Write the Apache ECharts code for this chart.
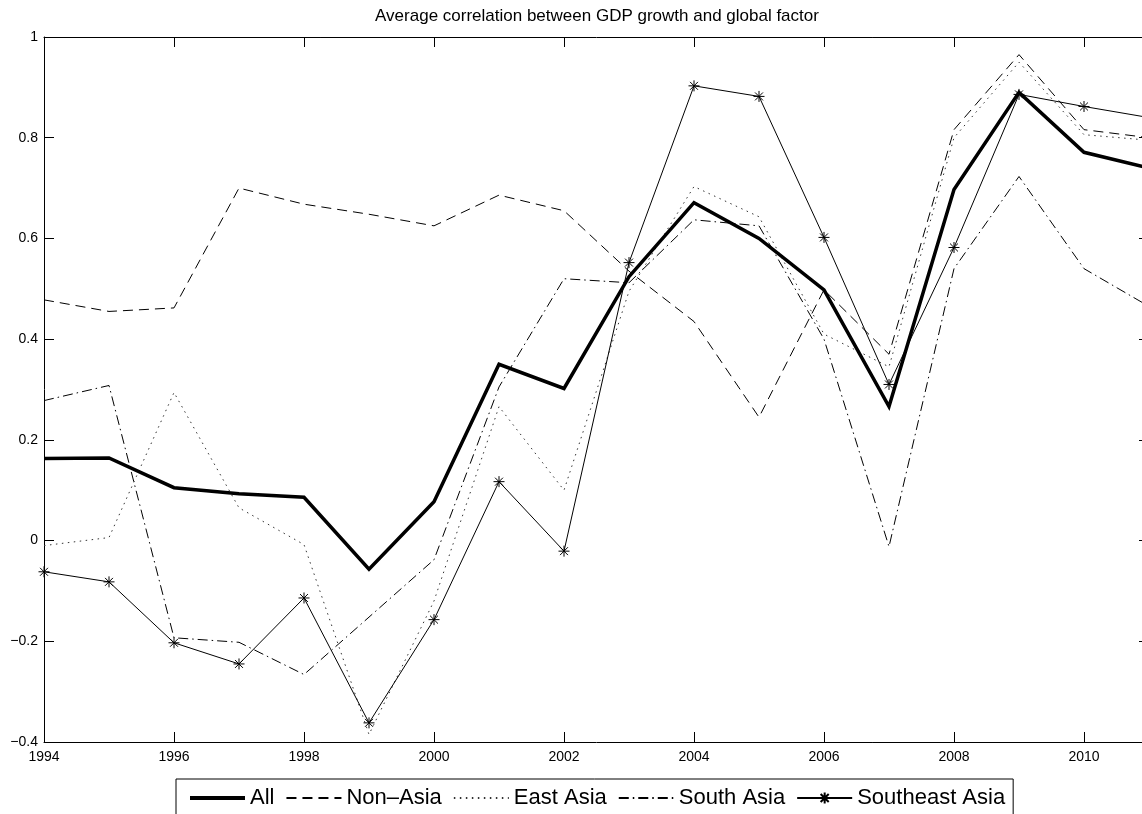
<!DOCTYPE html>
<html>
<head>
<meta charset="utf-8">
<title>Average correlation between GDP growth and global factor</title>
<script src="https://cdn.jsdelivr.net/npm/echarts@6/dist/echarts.min.js"></script>
<style>
  html, body { margin: 0; padding: 0; background: #fff; overflow: hidden; }
  /* a little wider than the window: the 2011 edge falls just outside, as in the original */
  #chart { width: 1149px; height: 814px; }
</style>
</head>
<body>
<div id="chart"></div>
<script>
  // years on the x axis
  var years = [1994, 1995, 1996, 1997, 1998, 1999, 2000, 2001, 2002,
               2003, 2004, 2005, 2006, 2007, 2008, 2009, 2010, 2011];

  // values
  var allVals = [0.163, 0.164, 0.105, 0.093, 0.086, -0.057, 0.077, 0.350, 0.302,
                 0.524, 0.671, 0.600, 0.498, 0.266, 0.697, 0.890, 0.771, 0.740];
  var nonAsia = [0.478, 0.455, 0.462, 0.700, 0.668, 0.648, 0.625, 0.686, 0.655,
                 0.535, 0.435, 0.245, 0.498, 0.370, 0.816, 0.965, 0.816, 0.800];
  var eastAsia = [-0.010, 0.006, 0.294, 0.065, -0.008, -0.385, -0.120, 0.266, 0.100,
                  0.495, 0.703, 0.643, 0.410, 0.345, 0.800, 0.950, 0.806, 0.795];
  var southAsia = [0.278, 0.308, -0.193, -0.202, -0.266, -0.152, -0.038, 0.305, 0.520,
                   0.512, 0.637, 0.625, 0.400, -0.012, 0.540, 0.723, 0.540, 0.465];
  var seAsia = [-0.062, -0.082, -0.203, -0.245, -0.114, -0.362, -0.157, 0.117, -0.021,
                0.552, 0.903, 0.882, 0.602, 0.310, 0.582, 0.886, 0.862, 0.840];

  var yTicks = [-0.4, -0.2, 0, 0.2, 0.4, 0.6, 0.8, 1];

  function pairs(vals) {
    return years.map(function (y, i) { return [y, vals[i]]; });
  }

  var font = 'Liberation Sans, Arial, Helvetica, sans-serif';
  var star = 'path://M0,-1L0,1M-1,0L1,0M-0.72,-0.72L0.72,0.72M-0.72,0.72L0.72,-0.72';

  var myChart = echarts.init(document.getElementById('chart'));

  var axisLine = { show: true, onZero: false, lineStyle: { color: '#000', width: 1 } };
  var tick = { show: true, inside: true, length: 10, lineStyle: { color: '#000', width: 1 } };
  var noMark = { opacity: 0 };

  myChart.setOption({
    animation: false,
    backgroundColor: '#fff',
    textStyle: { fontFamily: font },
    title: {
      text: 'Average correlation between GDP growth and global factor',
      left: 597,
      textAlign: 'center',
      top: 8,
      padding: 0,
      textStyle: { fontSize: 17, fontWeight: 'normal', color: '#000', fontFamily: font }
    },
    grid: { left: 44, top: 37, right: 0, bottom: 72 },
    legend: {
      left: 176,
      top: 779,
      orient: 'horizontal',
      padding: [6, 8, 6, 12],
      itemGap: 11,
      itemWidth: 55,
      itemHeight: 14,
      borderColor: '#000',
      borderWidth: 1,
      borderRadius: 0,
      textStyle: { fontSize: 22, color: '#000', fontFamily: font, lineHeight: 26 },
      data: [
        { name: 'All', itemStyle: noMark, lineStyle: { width: 4 } },
        { name: 'Non\u2013Asia', itemStyle: noMark },
        { name: 'East Asia', itemStyle: noMark },
        { name: 'South Asia', itemStyle: noMark },
        { name: 'Southeast Asia' }
      ]
    },
    xAxis: [
      {
        type: 'value', position: 'bottom', min: 1994, max: 2011, interval: 2,
        axisLine: axisLine, axisTick: tick, splitLine: { show: false },
        axisLabel: { color: '#000', fontSize: 14, margin: 8, showMaxLabel: false,
                     formatter: function (v) { return String(v); } }
      },
      {
        type: 'value', position: 'top', min: 1994, max: 2011, interval: 2,
        axisLine: axisLine, axisTick: tick, splitLine: { show: false },
        axisLabel: { show: false }
      }
    ],
    yAxis: [
      {
        type: 'value', position: 'left', min: yTicks[0], max: yTicks[yTicks.length - 1], interval: 0.2,
        axisLine: axisLine, axisTick: tick, splitLine: { show: false },
        axisLabel: {
          color: '#000', fontSize: 14, margin: 6,
          formatter: function (v) { return String(+v.toFixed(1)).replace('-', '\u2212'); }
        }
      },
      {
        type: 'value', position: 'right', min: yTicks[0], max: yTicks[yTicks.length - 1], interval: 0.2,
        axisLine: axisLine, axisTick: tick, splitLine: { show: false },
        axisLabel: { show: false }
      }
    ],
    series: [
      {
        name: 'All', type: 'line', data: pairs(allVals), symbol: 'none',
        lineStyle: { color: '#000', width: 3.5, join: 'miter' }, itemStyle: { color: '#000' }, z: 5
      },
      {
        name: 'Non\u2013Asia', type: 'line', data: pairs(nonAsia), symbol: 'none',
        lineStyle: { color: '#000', width: 1, type: [10, 6] }, itemStyle: { color: '#000' }
      },
      {
        name: 'East Asia', type: 'line', data: pairs(eastAsia), symbol: 'none',
        lineStyle: { color: '#333', width: 1, type: [1.5, 4.5] }, itemStyle: { color: '#333' }
      },
      {
        name: 'South Asia', type: 'line', data: pairs(southAsia), symbol: 'none',
        lineStyle: { color: '#000', width: 1, type: [10, 4, 1.5, 4] }, itemStyle: { color: '#000' }
      },
      {
        name: 'Southeast Asia', type: 'line', data: pairs(seAsia),
        symbol: star, symbolSize: 11, showAllSymbol: true,
        lineStyle: { color: '#000', width: 1 },
        itemStyle: { color: '#000', borderColor: '#000', borderWidth: 1 }
      }
    ]
  });
</script>
</body>
</html>
